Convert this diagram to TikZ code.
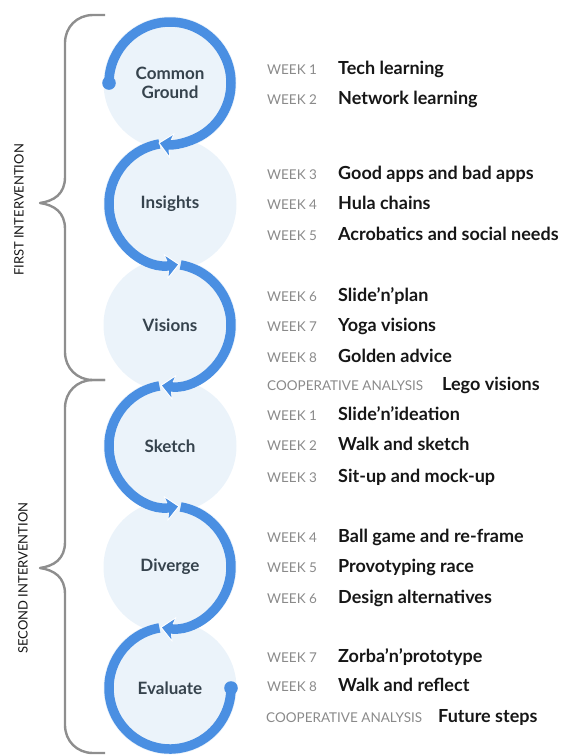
\documentclass[tikz,border=0pt]{standalone}
\usepackage{fontspec}
\setmainfont{Lato}
\usetikzlibrary{arrows.meta}
\definecolor{arcblue}{HTML}{4A8FE2}
\definecolor{pale}{HTML}{EBF3FA}
\definecolor{bracegrey}{HTML}{8E8E8E}
\definecolor{circtext}{HTML}{36434D}
\definecolor{weekgrey}{HTML}{8A8A8A}
\definecolor{titleblack}{HTML}{161616}
\tikzset{
  phase/.style={circle, fill=pale, draw=none, minimum size=133pt, inner sep=0pt,
    align=center, text=circtext, font=\fontsize{17}{18.5}\selectfont\bfseries},
  ring/.style={draw=arcblue, line width=9.5pt},
  halo/.style={draw=white, line width=9.5pt},
  bluetip/.style={-{Stealth[length=11pt,width=20pt,inset=2.5pt]}},
  whitetip/.style={-{Stealth[length=14pt,width=25pt,inset=3pt]}},
  dotend/.style={fill=arcblue, draw=none},
  bracepath/.style={draw=bracegrey, line width=2.4pt, line join=round},
  weeklab/.style={anchor=base west, inner sep=0pt, text=weekgrey, font=\fontsize{13.5}{15}\selectfont},
  worktitle/.style={anchor=base west, inner sep=0pt, text=titleblack, font=\fontsize{18}{20}\selectfont\bfseries},
  sidelab/.style={rotate=90, inner sep=0pt, text=titleblack, font=\fontsize{13}{15}\selectfont}
}
\begin{document}
\begin{tikzpicture}[x=1pt,y=1pt]
\useasboundingbox (0,0) rectangle (561,-756);
% phase circles
\node[phase] (c1) at (170,-83) {Common\\Ground};
\node[phase] (c2) at (170,-204) {Insights};
\node[phase] (c3) at (170,-325) {Visions};
\node[phase] (c4) at (170,-446) {Sketch};
\node[phase] (c5) at (170,-567) {Diverge};
\node[phase] (c6) at (170,-688) {Evaluate};
% arcs, drawn from the bottom up so each arrow head lies over the next arc
\draw[ring] ([shift={(100:61pt)}]c6.center) arc[start angle=100, end angle=360, radius=61pt];
\fill[dotend] ([shift={(0:61pt)}]c6.center) circle[radius=6.8pt];
\draw[halo,whitetip] ([shift={(80:61pt)}]c5.center) arc[start angle=80, end angle=-99, radius=61pt];
\draw[ring,bluetip,shorten >=1.6pt] ([shift={(80:61pt)}]c5.center) arc[start angle=80, end angle=-99, radius=61pt];
\draw[halo,whitetip] ([shift={(100:61pt)}]c4.center) arc[start angle=100, end angle=279, radius=61pt];
\draw[ring,bluetip,shorten >=1.6pt] ([shift={(100:61pt)}]c4.center) arc[start angle=100, end angle=279, radius=61pt];
\draw[halo,whitetip] ([shift={(80:61pt)}]c3.center) arc[start angle=80, end angle=-99, radius=61pt];
\draw[ring,bluetip,shorten >=1.6pt] ([shift={(80:61pt)}]c3.center) arc[start angle=80, end angle=-99, radius=61pt];
\draw[halo,whitetip] ([shift={(100:61pt)}]c2.center) arc[start angle=100, end angle=279, radius=61pt];
\draw[ring,bluetip,shorten >=1.6pt] ([shift={(100:61pt)}]c2.center) arc[start angle=100, end angle=279, radius=61pt];
\draw[halo,whitetip] ([shift={(180:61pt)}]c1.center) arc[start angle=180, end angle=-101, radius=61pt];
\draw[ring,bluetip,shorten >=1.6pt] ([shift={(180:61pt)}]c1.center) arc[start angle=180, end angle=-101, radius=61pt];
\fill[dotend] ([shift={(180:61pt)}]c1.center) circle[radius=6.8pt];
% braces
\draw[bracepath] (105,-15) -- (93,-15) .. controls (77,-15) and (65,-27) .. (65,-43) -- (65,-177)
  .. controls (65,-194) and (54,-201) .. (40,-203) .. controls (54,-205) and (65,-212) .. (65,-229)
  -- (65,-352) .. controls (65,-368) and (77,-380) .. (93,-380) -- (105,-380);
\draw[bracepath] (105,-380) -- (93,-380) .. controls (77,-380) and (65,-392) .. (65,-408) -- (65,-542)
  .. controls (65,-559) and (54,-566) .. (40,-568) .. controls (54,-570) and (65,-577) .. (65,-594)
  -- (65,-725) .. controls (65,-741) and (77,-753) .. (93,-753) -- (105,-753);
\node[sidelab] (first) at (19,-210) {FIRST INTERVENTION};
\node[sidelab] (second) at (23,-578) {SECOND INTERVENTION};
% schedule
\node[weeklab] (w1) at (267,-74.5) {WEEK 1};  \node[worktitle] (t1) at (338,-74.5) {Tech learning};
\node[weeklab] (w2) at (267,-104.5) {WEEK 2}; \node[worktitle] (t2) at (338,-104.5) {Network learning};
\node[weeklab] (w3) at (267,-179.5) {WEEK 3}; \node[worktitle] (t3) at (338,-179.5) {Good apps and bad apps};
\node[weeklab] (w4) at (267,-209.5) {WEEK 4}; \node[worktitle] (t4) at (338,-209.5) {Hula chains};
\node[weeklab] (w5) at (267,-240.5) {WEEK 5}; \node[worktitle] (t5) at (338,-240.5) {Acrobatics and social needs};
\node[weeklab] (w6) at (267,-301.5) {WEEK 6}; \node[worktitle] (t6) at (338,-301.5) {Slide’n’plan};
\node[weeklab] (w7) at (267,-331.5) {WEEK 7}; \node[worktitle] (t7) at (338,-331.5) {Yoga visions};
\node[weeklab] (w8) at (267,-362.5) {WEEK 8}; \node[worktitle] (t8) at (338,-362.5) {Golden advice};
\node[weeklab] (ca1) at (267,-390.5) {COOPERATIVE ANALYSIS}; \node[worktitle] (tc1) at (442,-390.5) {Lego visions};
\node[weeklab] (v1) at (267,-420.5) {WEEK 1}; \node[worktitle] (u1) at (338,-420.5) {Slide’n’ideation};
\node[weeklab] (v2) at (267,-450.5) {WEEK 2}; \node[worktitle] (u2) at (338,-450.5) {Walk and sketch};
\node[weeklab] (v3) at (267,-482.5) {WEEK 3}; \node[worktitle] (u3) at (338,-482.5) {Sit-up and mock-up};
\node[weeklab] (v4) at (267,-542.5) {WEEK 4}; \node[worktitle] (u4) at (338,-542.5) {Ball game and re-frame};
\node[weeklab] (v5) at (267,-572.5) {WEEK 5}; \node[worktitle] (u5) at (338,-572.5) {Provotyping race};
\node[weeklab] (v6) at (267,-603.5) {WEEK 6}; \node[worktitle] (u6) at (338,-603.5) {Design alternatives};
\node[weeklab] (v7) at (267,-662.5) {WEEK 7}; \node[worktitle] (u7) at (338,-662.5) {Zorba’n’prototype};
\node[weeklab] (v8) at (267,-691.5) {WEEK 8}; \node[worktitle] (u8) at (338,-691.5) {Walk and reflect};
\node[weeklab] (ca2) at (266,-722.5) {COOPERATIVE ANALYSIS}; \node[worktitle] (tc2) at (438,-722.5) {Future steps};
\end{tikzpicture}
\end{document}
